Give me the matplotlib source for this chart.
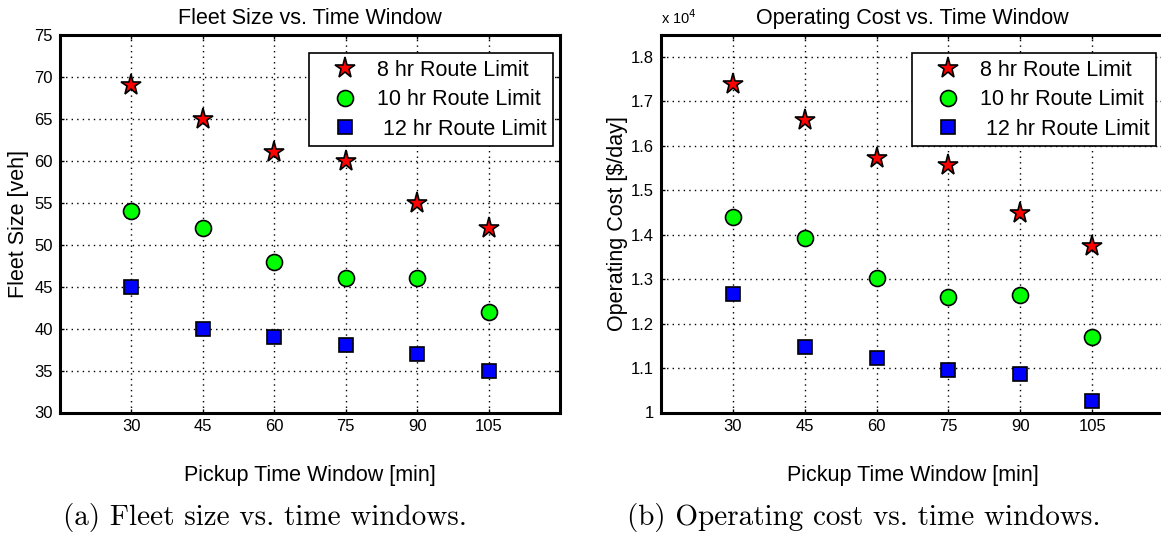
import matplotlib
matplotlib.use("Agg")
import matplotlib.pyplot as plt
from matplotlib.ticker import FuncFormatter, MultipleLocator

plt.rcParams['font.family'] = ['Liberation Sans', 'DejaVu Sans']

windows = [30, 45, 60, 75, 90, 105]
series_labels = ['8 hr Route Limit', '10 hr Route Limit', ' 12 hr Route Limit']

fleet_8 = [69, 65, 61, 60, 55, 52]
fleet_10 = [54, 52, 48, 46, 46, 42]
fleet_12 = [45, 40, 39, 38, 37, 35]

cost_8 = [17400, 16590, 15730, 15570, 14500, 13750]
cost_10 = [14400, 13930, 13030, 12600, 12640, 11700]
cost_12 = [12660, 11470, 11230, 10950, 10860, 10250]

styles = [
    dict(marker='*', color='red', ms=15.5),
    dict(marker='o', color='#00ff00', ms=11.5),
    dict(marker='s', color='blue', ms=9.5),
]

fig = plt.figure(figsize=(11.61, 5.35), dpi=100)
ax1 = fig.add_axes([60/1161, 122.5/535, 500/1161, 377.5/535])
ax2 = fig.add_axes([661/1161, 122.5/535, 503/1161, 377.5/535])


def style_axes(ax):
    for s in ax.spines.values():
        s.set_linewidth(2.2)
    ax.tick_params(direction='in', top=True, right=True, length=3, width=1,
                   labelsize=12, pad=5)
    ax.grid(True, linestyle=(0, (1, 3)), color='black', linewidth=1)
    ax.set_axisbelow(True)
    ax.set_xticks(windows)


def draw(ax, data, anchor):
    for vals, lab, st in zip(data, series_labels, styles):
        ax.plot(windows, vals, linestyle='none', marker=st['marker'],
                markersize=st['ms'], markerfacecolor=st['color'],
                markeredgecolor='black', markeredgewidth=1.2, label=lab)
    leg = ax.legend(loc='upper right', bbox_to_anchor=anchor, fontsize=15.5,
                    fancybox=False, framealpha=1, edgecolor='black',
                    borderaxespad=0, handletextpad=0.1, labelspacing=0.4,
                    borderpad=0.3, handlelength=2.75)
    leg.get_frame().set_linewidth(1.2)


style_axes(ax1)
draw(ax1, [fleet_8, fleet_10, fleet_12], (0.986, 0.952))
ax1.set_xlim(15, 120)
ax1.set_ylim(30, 75)
ax1.yaxis.set_major_locator(MultipleLocator(5))
ax1.set_title('Fleet Size vs. Time Window', fontsize=15.5, pad=8)
ax1.set_xlabel('Pickup Time Window [min]', fontsize=15.5, labelpad=22)
ax1.set_ylabel('Fleet Size [veh]', fontsize=15.5, labelpad=4)

style_axes(ax2)
draw(ax2, [cost_8, cost_10, cost_12], (0.984, 0.952))
ax2.set_xlim(15, 120)
ax2.set_ylim(10000, 18495)
ax2.yaxis.set_major_locator(MultipleLocator(1000))
ax2.yaxis.set_major_formatter(FuncFormatter(lambda v, p: '%g' % (v / 1e4)))
ax2.set_title('Operating Cost vs. Time Window', fontsize=15.5, pad=8)
ax2.set_xlabel('Pickup Time Window [min]', fontsize=15.5, labelpad=22)
ax2.set_ylabel('Operating Cost [$/day]', fontsize=15.5, labelpad=2)
ax2.text(0.0, 1.022, 'x 10$^4$', transform=ax2.transAxes, fontsize=10.5,
         ha='left', va='bottom')

fig.text(63/1161, 1 - 517/535, '(a) Fleet size vs. time windows.',
         fontfamily='cmr10', fontsize=21, ha='left', va='center')
fig.text(627/1161, 1 - 517/535, '(b) Operating cost vs. time windows.',
         fontfamily='cmr10', fontsize=21, ha='left', va='center')

fig.savefig('out.png', dpi=100)
